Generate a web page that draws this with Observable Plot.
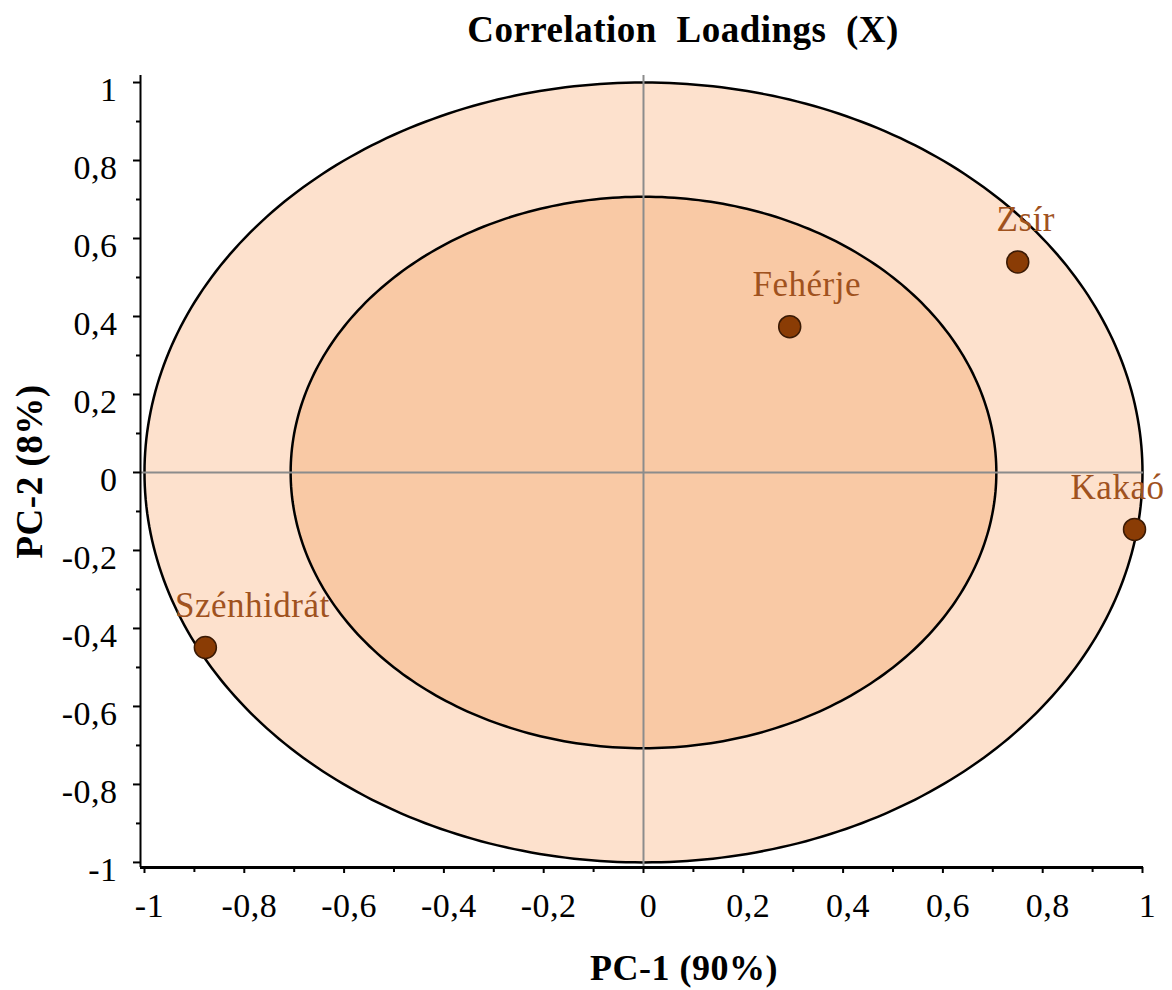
<!DOCTYPE html>
<html>
<head>
<meta charset="utf-8">
<script src="https://cdn.jsdelivr.net/npm/d3@7"></script>
<script src="https://cdn.jsdelivr.net/npm/@observablehq/plot@0.6"></script>
<style>
  html, body { margin: 0; padding: 0; background: #fff; }
  #chart svg { display: block; }
  #chart svg text { font-family: "Liberation Serif", "Times New Roman", serif; }
</style>
</head>
<body>
<div id="chart"></div>
<script>
// Data
const variables = ["Zsír", "Fehérje", "Kakaó", "Szénhidrát"];
const pc1 = [0.75, 0.293, 0.984, -0.878];
const pc2 = [0.54, 0.374, -0.146, -0.449];
const radii = [1, Math.SQRT1_2];
const majorTicks = [-1, -0.8, -0.6, -0.4, -0.2, 0, 0.2, 0.4, 0.6, 0.8, 1];
const minorTicks = [-0.9, -0.7, -0.5, -0.3, -0.1, 0.1, 0.3, 0.5, 0.7, 0.9];
const title = "Correlation  Loadings  (X)";
const xLabel = "PC-1 (90%)";
const yLabel = "PC-2 (8%)";

const points = variables.map((name, i) => ({name, x: pc1[i], y: pc2[i]}));
const angles = d3.range(0, 361, 1).map(a => a * Math.PI / 180);
const ring = r => angles.map(t => ({x: r * Math.cos(t), y: r * Math.sin(t)}));
const fmt = d => String(+d.toFixed(1)).replace(".", ",");
const serif = "'Liberation Serif', 'Times New Roman', serif";
const labelColor = "#a0521e";
const labelOffsets = {"Zsír": 8, "Fehérje": 17, "Kakaó": -17, "Szénhidrát": 47};

const marks = [
  Plot.line(ring(radii[0]), {x: "x", y: "y", curve: "linear-closed", fill: "#fde1cd", stroke: "#000", strokeWidth: 2.5}),
  Plot.line(ring(radii[1]), {x: "x", y: "y", curve: "linear-closed", fill: "#f9c9a5", stroke: "#000", strokeWidth: 2.5}),
  Plot.ruleY([0], {stroke: "#8c8c8c", strokeWidth: 2}),
  Plot.ruleX([0], {stroke: "#8c8c8c", strokeWidth: 2}),
  Plot.ruleX([-1.008], {stroke: "#000", strokeWidth: 2}),
  Plot.ruleY([-1.013], {stroke: "#000", strokeWidth: 3}),
  // y axis ticks
  Plot.axisY({ticks: majorTicks, tickSize: 7, tickFormat: () => "", strokeWidth: 2, label: null}),
  Plot.axisY({ticks: minorTicks, tickSize: 4, tickFormat: () => "", strokeWidth: 2, label: null}),
  Plot.axisY({ticks: majorTicks, tickSize: 0, tickPadding: 23, dy: 8, tickFormat: fmt, fontSize: 34, fill: "#000", fontFamily: serif, label: null}),
  // x axis ticks
  Plot.axisX({ticks: majorTicks, tickSize: 6, tickFormat: () => "", strokeWidth: 2, label: null}),
  Plot.axisX({ticks: minorTicks, tickSize: 5, tickFormat: () => "", strokeWidth: 2, label: null}),
  Plot.axisX({ticks: majorTicks, tickSize: 0, tickPadding: 25, dx: 5, tickFormat: fmt, fontSize: 34, fill: "#000", fontFamily: serif, label: null}),
  Plot.dot(points, {x: "x", y: "y", r: 11, fill: "#8a3c05", stroke: "#3a1a05", strokeWidth: 1.5}),
  ...variables.map(v => Plot.text(points.filter(p => p.name === v), {
    x: "x", y: "y", text: "name", dx: labelOffsets[v], dy: -42,
    fontSize: 35, fill: labelColor, fontFamily: serif
  })),
  Plot.text([title], {frameAnchor: "top", textAnchor: "middle", lineAnchor: "middle", dx: 41, dy: -45, fontSize: 37, fontWeight: "bold", fill: "#000", fontFamily: serif}),
  Plot.text([xLabel], {frameAnchor: "bottom", textAnchor: "middle", lineAnchor: "middle", dx: 42, dy: 101, fontSize: 36, fontWeight: "bold", fill: "#000", fontFamily: serif}),
  Plot.text([yLabel], {frameAnchor: "left", textAnchor: "middle", lineAnchor: "middle", dx: -110, rotate: -90, fontSize: 37, fontWeight: "bold", fill: "#000", fontFamily: serif})
];

const chart = Plot.plot({
  width: 1172,
  height: 990,
  marginLeft: 140,
  marginRight: 29,
  marginTop: 75,
  marginBottom: 123,
  x: {domain: [-1.008, 1.002], label: null},
  y: {domain: [-1.013, 1.018], label: null},
  style: {fontFamily: serif, fontSize: "34px", background: "#fff", overflow: "visible", letterSpacing: "0.5px"},
  marks
});
document.getElementById("chart").appendChild(chart);
</script>
</body>
</html>
